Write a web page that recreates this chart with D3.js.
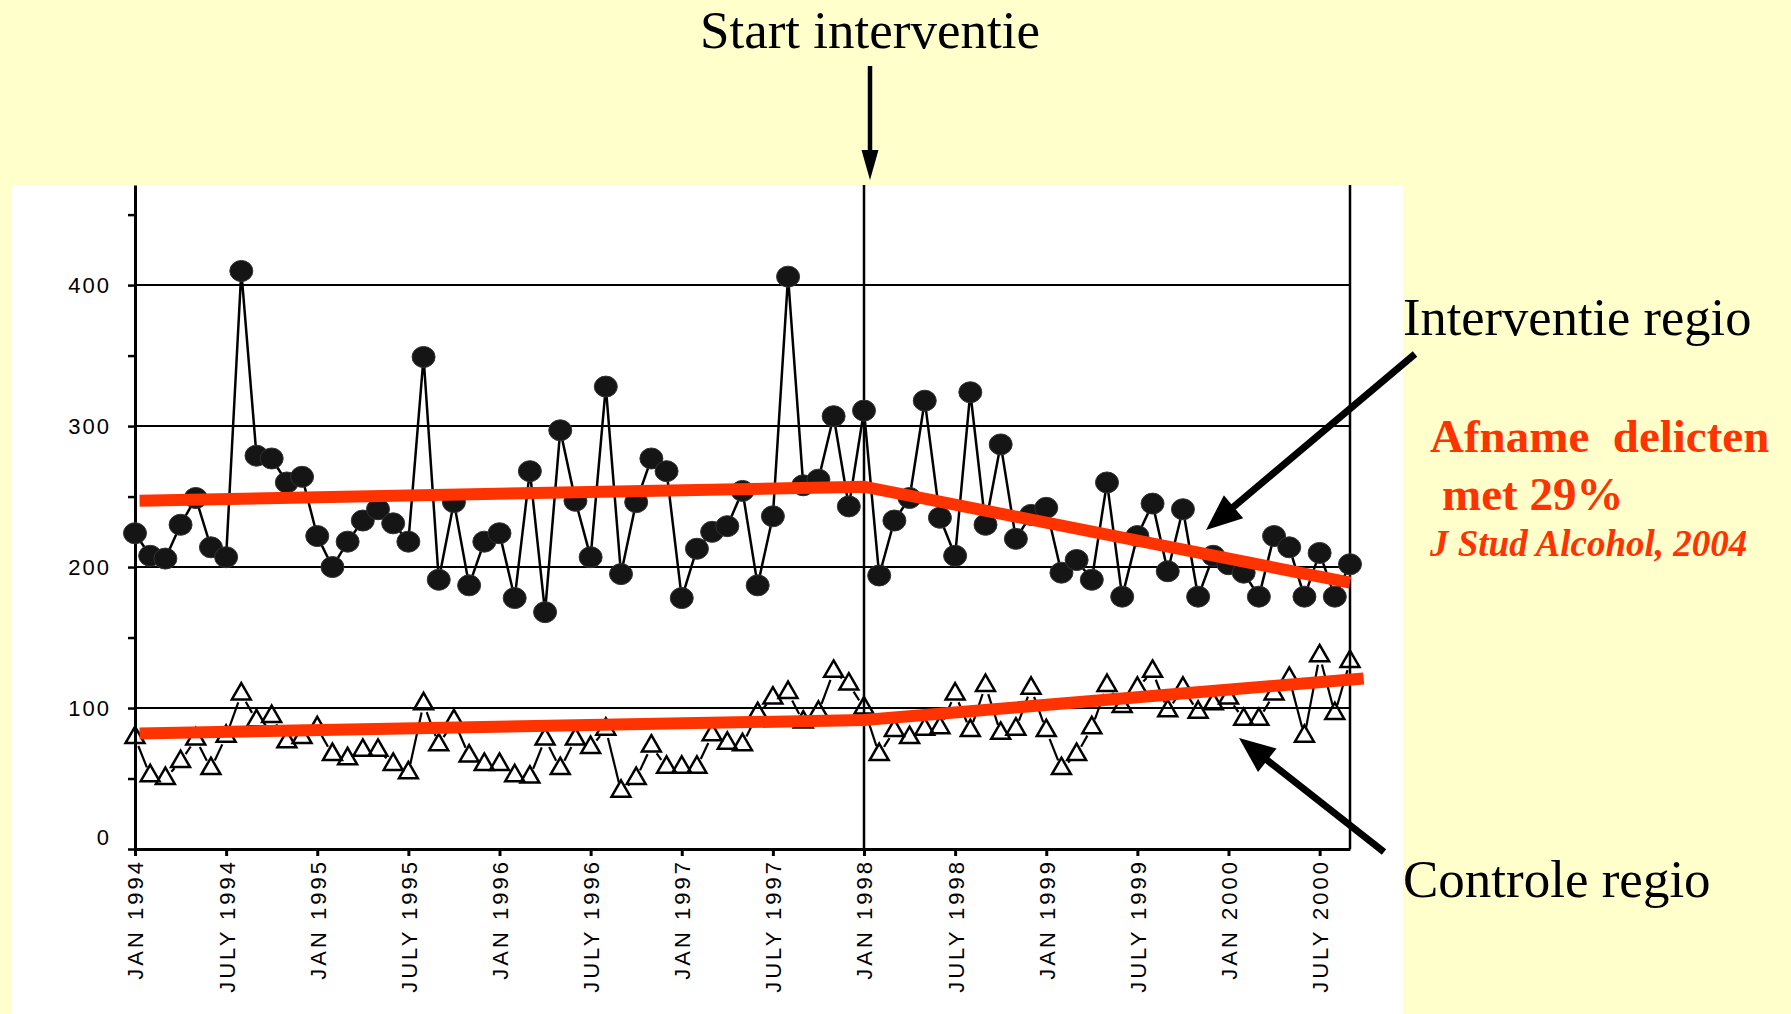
<!DOCTYPE html>
<html>
<head>
<meta charset="utf-8">
<script src="https://cdnjs.cloudflare.com/ajax/libs/d3/7.8.5/d3.min.js"></script>
<style>
body{margin:0;background:#ffffcc;}
svg{display:block;}
.serif{font-family:"Liberation Serif","Times New Roman",serif;}
</style>
</head>
<body>
<div id="chart"></div>
<script>
// maandcijfers jan 1994 - sep 2000
var interventie = [224,208,206,230,249,214,207,410,279,277,260,264,222,200,218,233,241,231,218,349,
    191,246,187,218,224,178,268,168,297,247,207,328,195,246,277,268,178,213,225,229,
    254,187,236,406,258,262,307,243,311,194,233,249,318,235,208,324,230,287,220,237,
    242,196,205,191,260,179,222,245,197,241,179,208,202,196,179,222,214,179,210,179,202];
var controle = [79,52,50,62,78,57,80,110,91,94,76,79,86,67,64,70,70,60,54,103,
    74,91,66,60,60,52,51,78,57,78,72,85,41,50,73,58,58,58,81,75,
    74,96,107,111,90,97,126,117,100,67,84,79,85,86,110,84,116,82,85,114,
    84,57,67,86,116,101,114,126,98,114,97,103,107,92,92,110,121,80,137,96,133];
var trendInterventie = [[0.3,247],[48,257],[80,189]];
var trendControle = [[0.3,82],[48,91.5],[80.9,121]];
var tickMonths = d3.range(0,79,6);
var tickLabels = ['JAN 1994','JULY 1994','JAN 1995','JULY 1995','JAN 1996','JULY 1996','JAN 1997',
    'JULY 1997','JAN 1998','JULY 1998','JAN 1999','JULY 1999','JAN 2000','JULY 2000'];
var yTicks = d3.range(0,451,50);
var yLabels = [0,100,200,300,400];
var gridValues = [100,200,300,400];
var startMonth = 48, lastMonth = 80;

const width = 1791, height = 1014;
var svg = d3.select('#chart').append('svg')
    .attr('width',width)
    .attr('height',height);

svg.append('rect')
    .attr('x',11).attr('y',185)
    .attr('width',1392).attr('height',829)
    .attr('fill','#fff');

var x = d3.scaleLinear().domain([0,lastMonth]).range([135,1350]);
var y = d3.scaleLinear().domain([0,471]).range([849,185]);

// rasterlijnen
svg.selectAll('line.grid')
    .data(gridValues)
    .enter()
    .append('line')
    .attr('class','grid')
    .attr('x1',x(0)).attr('x2',x(lastMonth))
    .attr('y1',d=>y(d)).attr('y2',d=>y(d))
    .attr('stroke','#000').attr('stroke-width',2);

svg.selectAll('line.vline')
    .data([startMonth,lastMonth])
    .enter()
    .append('line')
    .attr('class','vline')
    .attr('x1',d=>x(d)).attr('x2',d=>x(d))
    .attr('y1',y(471)).attr('y2',y(0))
    .attr('stroke','#000').attr('stroke-width',2.5);

// assen
var yAxis = svg.append('g')
    .attr('transform','translate('+x(0)+',0)')
    .call(d3.axisLeft(y).tickValues(yTicks).tickSize(7).tickSizeOuter(0).tickPadding(17)
        .tickFormat(d=>yLabels.includes(d)?d:''));
yAxis.select('.domain').attr('stroke-width',3);
yAxis.selectAll('.tick line').attr('stroke-width',2.5);
yAxis.selectAll('text')
    .attr('font-family','"Liberation Sans",Arial,sans-serif')
    .attr('font-size',22)
    .attr('letter-spacing',2)
    .attr('fill','#000')
    .attr('dy',d=>d===0?'-0.2em':'0.34em');

var xAxis = svg.append('g')
    .attr('transform','translate(0,'+y(0)+')')
    .call(d3.axisBottom(x).tickValues(tickMonths).tickSize(7).tickSizeOuter(0)
        .tickFormat((d,i)=>tickLabels[i]));
xAxis.select('.domain').attr('stroke-width',3);
xAxis.selectAll('.tick line').attr('stroke-width',3);
xAxis.selectAll('text')
    .attr('font-family','"Liberation Sans",Arial,sans-serif')
    .attr('font-size',22)
    .attr('letter-spacing',3)
    .attr('fill','#000')
    .attr('text-anchor','end')
    .attr('transform','rotate(-90)')
    .attr('x',-10).attr('y',0).attr('dy','0.36em');

// interventie regio
var line = d3.line().x((d,i)=>x(i)).y(d=>y(d));
svg.append('path')
    .datum(interventie)
    .attr('d',line)
    .attr('fill','none')
    .attr('stroke','#000')
    .attr('stroke-width',2.5);
svg.selectAll('ellipse.dot')
    .data(interventie)
    .enter()
    .append('ellipse')
    .attr('class','dot')
    .attr('cx',(d,i)=>x(i))
    .attr('cy',d=>y(d))
    .attr('rx',11.5).attr('ry',10.5)
    .attr('fill','#151515')
    .attr('stroke','#333')
    .attr('stroke-width',1);

// controle regio, lijnstukken met open ruimte rond de driehoekjes
var pts = controle.map((v,i)=>[x(i),y(v)]);
var gap = 9;
svg.selectAll('line.seg')
    .data(d3.pairs(pts).filter(p=>Math.hypot(p[1][0]-p[0][0],p[1][1]-p[0][1])>2*gap+1))
    .enter()
    .append('line')
    .attr('class','seg')
    .each(function(p){
        var dx = p[1][0]-p[0][0], dy = p[1][1]-p[0][1];
        var len = Math.hypot(dx,dy);
        d3.select(this)
            .attr('x1',p[0][0]+gap*dx/len).attr('y1',p[0][1]+gap*dy/len)
            .attr('x2',p[1][0]-gap*dx/len).attr('y2',p[1][1]-gap*dy/len);
    })
    .attr('stroke','#000')
    .attr('stroke-width',2.2);
svg.selectAll('path.tri')
    .data(controle)
    .enter()
    .append('path')
    .attr('class','tri')
    .attr('d',d3.symbol(d3.symbolTriangle).size(155))
    .attr('transform',(d,i)=>'translate('+x(i)+','+y(d)+')')
    .attr('fill','none')
    .attr('stroke','#000')
    .attr('stroke-width',2.5);

// trendlijnen
var trend = d3.line().x(d=>x(d[0])).y(d=>y(d[1]));
svg.selectAll('path.trend')
    .data([trendInterventie,trendControle])
    .enter()
    .append('path')
    .attr('class','trend')
    .attr('d',trend)
    .attr('fill','none')
    .attr('stroke','#ff3300')
    .attr('stroke-width',12)
    .attr('stroke-linejoin','miter');

// pijlen
function arrow(x1,y1,x2,y2,w,hl,hw){
    var dx = x2-x1, dy = y2-y1, len = Math.hypot(dx,dy);
    var ux = dx/len, uy = dy/len;
    var bx = x2-ux*hl, by = y2-uy*hl;
    svg.append('line')
        .attr('x1',x1).attr('y1',y1).attr('x2',bx+ux*2).attr('y2',by+uy*2)
        .attr('stroke','#000').attr('stroke-width',w);
    svg.append('path')
        .attr('d','M'+x2+','+y2+'L'+(bx-uy*hw/2)+','+(by+ux*hw/2)+'L'+(bx+uy*hw/2)+','+(by-ux*hw/2)+'Z')
        .attr('fill','#000');
}
arrow(870,66,870,180,4.5,30,17);
arrow(1415,354,1206,530,7,36,30);
arrow(1384,852,1239,738,7,36,30);

// teksten
svg.append('text').attr('class','serif')
    .attr('x',870).attr('y',48)
    .attr('text-anchor','middle')
    .attr('font-size',53)
    .text('Start interventie');
svg.append('text').attr('class','serif')
    .attr('x',1403).attr('y',335)
    .attr('font-size',52.5)
    .text('Interventie regio');
svg.append('text').attr('class','serif')
    .attr('x',1403).attr('y',897)
    .attr('font-size',53)
    .text('Controle regio');
svg.append('text').attr('class','serif')
    .attr('x',1430).attr('y',452)
    .attr('font-size',47).attr('font-weight','bold')
    .attr('fill','#ff3300')
    .style('white-space','pre')
    .text('Afname  delicten');
svg.append('text').attr('class','serif')
    .attr('x',1442).attr('y',510)
    .attr('font-size',47).attr('font-weight','bold')
    .attr('fill','#ff3300')
    .text('met 29%');
svg.append('text').attr('class','serif')
    .attr('x',1430).attr('y',556)
    .attr('font-size',37).attr('font-weight','bold').attr('font-style','italic')
    .attr('fill','#ff3300')
    .text('J Stud Alcohol, 2004');
</script>
</body>
</html>
